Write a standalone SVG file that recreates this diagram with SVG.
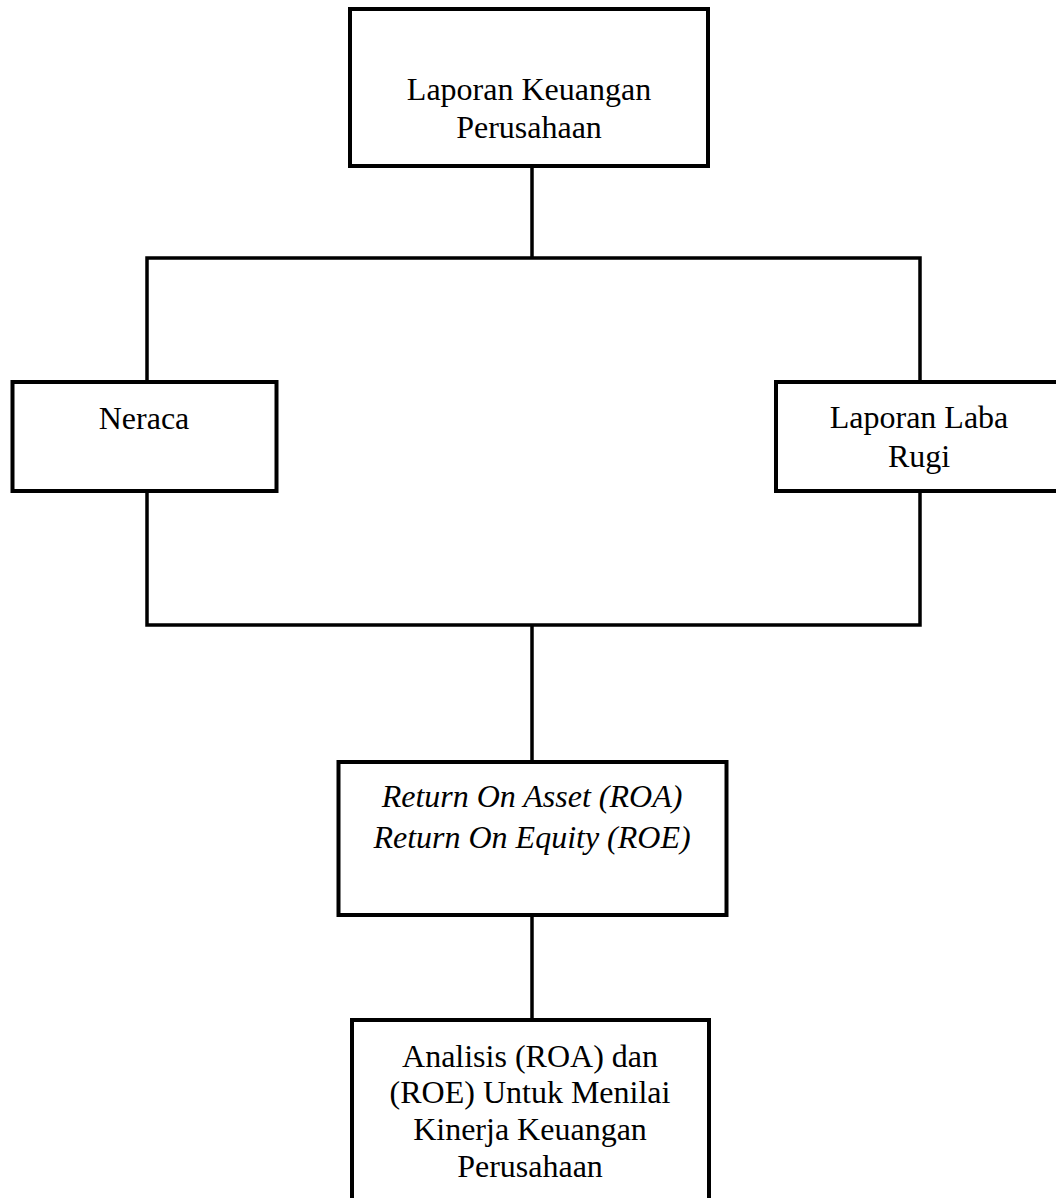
<svg xmlns="http://www.w3.org/2000/svg" width="1056" height="1198" viewBox="0 0 1056 1198">
<style>
.box{fill:#fff;stroke:#000;stroke-width:4}
.ln{fill:none;stroke:#000;stroke-width:3.5;stroke-linecap:square}
text{font-family:"Liberation Serif","Times New Roman",serif;font-size:32px;fill:#000;text-anchor:middle}
.it{font-style:italic}
</style>
<rect width="1056" height="1198" fill="#fff"/>
<g id="connectors">
<path class="ln" d="M532 167 V258 M147 258 H920 M147 258 V382 M920 258 V382"/>
<path class="ln" d="M147 491 V625 M920 491 V625 M147 625 H920 M532 625 V762"/>
<path class="ln" d="M532 915 V1020"/>
</g>
<g id="node-laporan-keuangan">
<rect class="box" x="350" y="9" width="358" height="157"/>
<text x="529" y="100">Laporan Keuangan</text>
<text x="529" y="138">Perusahaan</text>
</g>
<g id="node-neraca">
<rect class="box" x="12.5" y="382" width="264" height="109"/>
<text x="144" y="429">Neraca</text>
</g>
<g id="node-laba-rugi">
<rect class="box" x="776" y="382" width="290" height="109"/>
<text x="919" y="428">Laporan Laba</text>
<text x="919" y="467">Rugi</text>
</g>
<g id="node-roa-roe">
<rect class="box" x="338.5" y="762" width="388" height="153"/>
<text class="it" x="532" y="807">Return On Asset (ROA)</text>
<text class="it" x="532" y="848">Return On Equity (ROE)</text>
</g>
<g id="node-analisis">
<rect class="box" x="352" y="1020" width="357" height="200"/>
<text x="530" y="1067">Analisis (ROA) dan</text>
<text x="530" y="1103">(ROE) Untuk Menilai</text>
<text x="530" y="1140">Kinerja Keuangan</text>
<text x="530" y="1177">Perusahaan</text>
</g>
</svg>
